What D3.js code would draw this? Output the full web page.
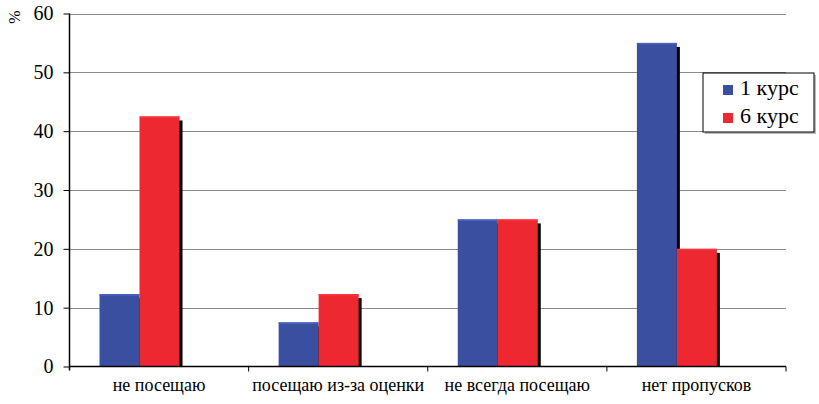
<!DOCTYPE html>
<html>
<head>
<meta charset="utf-8">
<script src="https://cdn.jsdelivr.net/npm/d3@7"></script>
<style>
  body { margin: 0; background: #fff; }
</style>
</head>
<body>
<svg width="819" height="404"></svg>
<script>
// data
var categories = ["не посещаю", "посещаю из-за оценки", "не всегда посещаю", "нет пропусков"];
var seriesNames = ["1 курс", "6 курс"];
var course1 = [12.3, 7.5, 25, 55];
var course6 = [42.5, 12.3, 25, 20];
var yTicks = [0, 10, 20, 30, 40, 50, 60];
var colors = ["#3a4f9f", "#ee2830"];

(function() {
  var serif = "Liberation Serif";
  var svg = d3.select("svg");
  var mLeft = 69.5, mRight = 786, mTop = 13.5, mBottom = 366.5;

  var x = d3.scaleBand().domain(categories).range([mLeft, mRight]);
  var y = d3.scaleLinear().domain([0, 60]).range([mBottom, mTop]);

  // gridlines
  svg.append("g").selectAll("line")
    .data(yTicks.slice(1))
    .enter().append("line")
    .attr("x1", mLeft).attr("x2", mRight)
    .attr("y1", function(d) { return Math.round(y(d)) + 0.5; })
    .attr("y2", function(d) { return Math.round(y(d)) + 0.5; })
    .attr("stroke", "#8a8a8a").attr("stroke-width", 1);

  // bars
  var barW = 40, offset = 30;
  var rows = categories.map(function(c, i) { return { cat: c, vals: [course1[i], course6[i]] }; });
  var groups = svg.append("g").selectAll("g")
    .data(rows).enter().append("g")
    .attr("transform", function(d) { return "translate(" + (x(d.cat) + offset) + ",0)"; });

  seriesNames.forEach(function(name, s) {
    // shadow strip on the right
    groups.append("rect")
      .attr("x", s * barW + barW - 1)
      .attr("y", function(d) { return y(d.vals[s]) + 4; })
      .attr("width", 4)
      .attr("height", function(d) { return mBottom - y(d.vals[s]) - 4; })
      .attr("fill", "#000");
    groups.append("rect")
      .attr("x", s * barW)
      .attr("y", function(d) { return y(d.vals[s]); })
      .attr("width", barW)
      .attr("height", function(d) { return mBottom - y(d.vals[s]); })
      .attr("fill", colors[s]);
    // light top edge
    groups.append("rect")
      .attr("x", s * barW)
      .attr("y", function(d) { return y(d.vals[s]); })
      .attr("width", barW)
      .attr("height", 1.5)
      .attr("fill", d3.color(colors[s]).brighter(0.6));
  });

  // y axis
  var yAxis = d3.axisLeft(y).tickValues(yTicks).tickSize(6).tickPadding(10);
  var gy = svg.append("g").attr("transform", "translate(" + mLeft + ",0)").call(yAxis)
    .attr("font-family", serif).attr("font-size", 20);
  gy.select(".domain").attr("d", "M0," + mTop + "V" + (mBottom + 4)).attr("stroke", "#000").attr("stroke-width", 1.5);
  gy.selectAll(".tick line").attr("stroke", "#000");
  gy.selectAll(".tick text").attr("fill", "#000");

  // x axis
  var xAxis = d3.axisBottom(x).tickSize(0).tickPadding(12);
  var gx = svg.append("g").attr("transform", "translate(0," + mBottom + ")").call(xAxis)
    .attr("font-family", serif).attr("font-size", 18);
  gx.select(".domain").attr("d", "M" + mLeft + ",0H" + mRight).attr("stroke", "#000").attr("stroke-width", 1.5);
  gx.selectAll(".tick text").attr("fill", "#000");
  // category separators
  gx.append("g").selectAll("line")
    .data(categories)
    .enter().append("line")
    .attr("x1", function(d) { return x(d) + x.bandwidth(); })
    .attr("x2", function(d) { return x(d) + x.bandwidth(); })
    .attr("y1", 0).attr("y2", 5)
    .attr("stroke", "#000");

  // % label
  svg.append("text")
    .attr("transform", "translate(20,17) rotate(-90)")
    .attr("text-anchor", "middle")
    .attr("font-family", serif).attr("font-size", 16)
    .text("%");

  // legend
  var lg = svg.append("g").attr("transform", "translate(703,73)");
  lg.append("rect").attr("x", 2).attr("y", 2).attr("width", 111).attr("height", 59).attr("fill", "#bbb");
  lg.append("rect").attr("x", 0).attr("y", 0).attr("width", 111).attr("height", 59)
    .attr("fill", "#fff").attr("stroke", "#000").attr("stroke-width", 1);
  seriesNames.forEach(function(name, i) {
    lg.append("rect").attr("x", 20).attr("y", 12 + i * 28).attr("width", 10).attr("height", 10).attr("fill", colors[i]);
    lg.append("text").attr("x", 37).attr("y", 22 + i * 28)
      .attr("font-family", serif).attr("font-size", 22).text(name);
  });
})();
</script>
</body>
</html>
